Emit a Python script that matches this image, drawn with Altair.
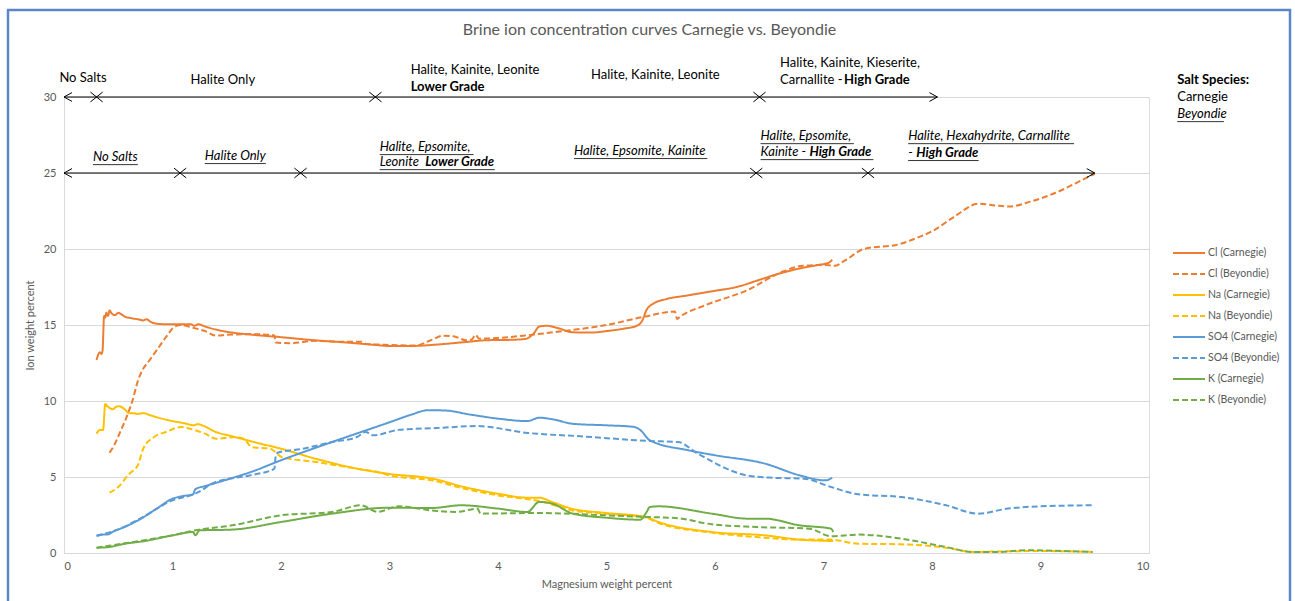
import altair as alt
import pandas as pd

# ---------------- series values (Mg wt% vs ion wt%) ----------------
cl_carnegie_x = [0.30, 0.33, 0.345, 0.355, 0.37, 0.38, 0.39, 0.405, 0.42, 0.44, 0.47, 0.50, 0.53, 0.56, 0.62,
                 0.70, 0.73, 0.76, 0.80, 0.86, 0.94, 1.05, 1.17, 1.20, 1.24, 1.30, 1.40, 1.55, 1.75, 2.0,
                 2.3, 2.6, 2.85, 3.0, 3.2, 3.45, 3.7, 3.9, 4.1, 4.25, 4.33, 4.38, 4.45, 4.55, 4.69, 4.85,
                 5.0, 5.15, 5.28, 5.33, 5.37, 5.43, 5.55, 5.75, 6.0, 6.2, 6.4, 6.6, 6.8, 6.95, 7.05, 7.08]
cl_carnegie_y = [12.7, 13.2, 13.1, 13.3, 15.6, 15.5, 15.8, 15.6, 15.95, 15.75, 15.65, 15.8, 15.7, 15.55, 15.45,
                 15.35, 15.3, 15.38, 15.2, 15.08, 15.05, 15.05, 15.05, 14.95, 15.05, 14.9, 14.7, 14.5, 14.35, 14.2,
                 14.0, 13.85, 13.7, 13.62, 13.62, 13.72, 13.88, 14.0, 14.02, 14.08, 14.45, 14.9, 14.95, 14.8, 14.52, 14.5,
                 14.6, 14.75, 14.95, 15.3, 16.0, 16.4, 16.7, 16.95, 17.25, 17.5, 17.95, 18.4, 18.75, 18.95, 19.1, 19.3]

cl_beyondie_x = [0.42, 0.47, 0.52, 0.58, 0.63, 0.68, 0.72, 0.78, 0.87, 0.95, 1.02, 1.08, 1.15, 1.21, 1.30,
                 1.40, 1.50, 1.71, 1.90, 1.94, 1.95, 2.09, 2.32, 2.55, 2.74, 2.79, 2.95, 3.24, 3.38, 3.5,
                 3.62, 3.7, 3.76, 3.79, 3.83, 4.0, 4.3, 4.6, 5.0, 5.35, 5.63, 5.65, 5.68, 5.91, 6.3, 6.62,
                 6.81, 7.0, 7.1, 7.2, 7.37, 7.69, 7.85, 8.01, 8.2, 8.43, 8.6, 8.72, 8.9, 9.14, 9.4, 9.5]
cl_beyondie_y = [6.6, 7.2, 8.0, 9.0, 10.0, 11.3, 12.0, 12.6, 13.5, 14.3, 14.9, 15.0, 14.9, 14.78, 14.6,
                 14.3, 14.35, 14.4, 14.35, 14.3, 13.85, 13.8, 13.96, 13.9, 13.9, 13.75, 13.7, 13.65, 14.0, 14.3,
                 14.2, 14.0, 14.05, 14.35, 14.1, 14.15, 14.35, 14.6, 15.0, 15.55, 15.89, 15.4, 15.56, 16.3, 17.3, 18.5,
                 18.9, 18.95, 18.9, 19.25, 20.0, 20.3, 20.7, 21.2, 22.1, 22.98, 22.85, 22.8, 23.1, 23.7, 24.6, 24.95]

na_carnegie_x = [0.30, 0.33, 0.36, 0.38, 0.40, 0.42, 0.45, 0.48, 0.51, 0.56, 0.60, 0.64, 0.68, 0.73, 0.80,
                 0.87, 1.0, 1.1, 1.2, 1.23, 1.28, 1.40, 1.55, 1.75, 2.0, 2.32, 2.7, 3.0, 3.39, 3.69,
                 4.0, 4.27, 4.38, 4.5, 4.69, 5.0, 5.36, 5.48, 5.97, 6.46, 6.78, 7.09]
na_carnegie_y = [7.85, 8.1, 8.1, 9.8, 9.65, 9.55, 9.45, 9.62, 9.65, 9.45, 9.2, 9.2, 9.15, 9.2, 9.05,
                 8.9, 8.68, 8.55, 8.4, 8.48, 8.38, 7.96, 7.68, 7.3, 6.86, 6.2, 5.55, 5.2, 4.9, 4.34,
                 3.9, 3.64, 3.64, 3.35, 2.9, 2.63, 2.37, 2.04, 1.38, 1.16, 0.88, 0.79]

na_beyondie_x = [0.42, 0.5, 0.6, 0.68, 0.73, 0.83, 0.94, 1.08, 1.21, 1.30, 1.40, 1.59, 1.66, 1.73, 1.90,
                 2.01, 2.32, 2.7, 2.89, 3.0, 3.39, 3.69, 4.0, 4.38, 4.69, 5.0, 5.36, 5.48, 5.97, 6.38,
                 6.78, 7.07, 7.32, 7.72, 8.13, 8.38, 8.6, 8.99, 9.48]
na_beyondie_y = [3.97, 4.34, 5.2, 5.77, 6.86, 7.63, 7.96, 8.29, 8.07, 7.85, 7.52, 7.63, 7.5, 6.97, 6.86,
                 6.3, 5.99, 5.55, 5.33, 5.1, 4.78, 4.23, 3.79, 3.42, 2.8, 2.59, 2.32, 1.97, 1.34, 1.05,
                 0.88, 0.88, 0.61, 0.57, 0.35, 0.07, 0.1, 0.13, 0.07]

so4_carnegie_x = [0.30, 0.35, 0.41, 0.45, 0.52, 0.6, 0.71, 0.85, 1.0, 1.1, 1.19, 1.21, 1.3, 1.48, 1.75,
                  2.0, 2.47, 3.0, 3.2, 3.35, 3.5, 3.75, 4.0, 4.27, 4.38, 4.5, 4.69, 5.0, 5.25, 5.31,
                  5.4, 5.76, 6.0, 6.46, 6.78, 7.02, 7.08]
so4_carnegie_y = [1.12, 1.2, 1.23, 1.4, 1.6, 1.85, 2.26, 2.9, 3.57, 3.75, 3.86, 4.2, 4.4, 4.78, 5.4,
                  6.1, 7.3, 8.6, 9.1, 9.39, 9.38, 9.1, 8.84, 8.68, 8.9, 8.8, 8.5, 8.4, 8.3, 8.1,
                  7.41, 6.75, 6.43, 5.88, 5.11, 4.78, 4.95]

so4_beyondie_x = [0.30, 0.5, 0.71, 1.0, 1.21, 1.4, 1.71, 1.94, 1.95, 1.97, 2.2, 2.47, 2.7, 2.78, 2.85,
                  3.08, 3.43, 3.81, 4.27, 4.76, 5.4, 5.66, 5.84, 6.29, 6.5, 6.82, 7.07, 7.32, 7.72, 8.13,
                  8.42, 8.7, 8.99, 9.48]
so4_beyondie_y = [1.15, 1.55, 2.3, 3.46, 3.9, 4.67, 5.1, 5.55, 6.3, 6.6, 6.86, 7.3, 7.63, 7.96, 7.74,
                  8.1, 8.22, 8.35, 7.9, 7.68, 7.37, 7.3, 6.54, 5.11, 4.96, 4.89, 4.34, 3.86, 3.68, 3.14,
                  2.59, 2.92, 3.07, 3.14]

k_carnegie_x = [0.30, 0.41, 0.56, 0.73, 1.0, 1.19, 1.21, 1.25, 1.55, 2.0, 2.47, 3.0, 3.39, 3.66, 4.0,
                4.27, 4.38, 4.5, 4.69, 5.0, 5.31, 5.37, 5.4, 5.48, 5.97, 6.3, 6.46, 6.78, 7.07, 7.09]
k_carnegie_y = [0.35, 0.39, 0.61, 0.77, 1.16, 1.38, 1.16, 1.49, 1.54, 2.04, 2.59, 2.98, 2.96, 3.14, 2.92,
                2.7, 3.36, 3.25, 2.59, 2.32, 2.19, 2.7, 3.03, 3.07, 2.59, 2.26, 2.26, 1.82, 1.6, 1.38]

k_beyondie_x = [0.30, 0.73, 1.0, 1.21, 1.55, 2.0, 2.47, 2.74, 2.89, 3.08, 3.39, 3.62, 3.81, 3.84, 4.38,
                5.0, 5.37, 5.64, 5.97, 6.38, 6.87, 7.07, 7.32, 7.72, 8.13, 8.38, 8.62, 8.87, 9.2, 9.48]
k_beyondie_y = [0.35, 0.83, 1.16, 1.49, 1.82, 2.48, 2.7, 3.14, 2.7, 3.07, 2.8, 2.7, 2.92, 2.59, 2.63,
                2.48, 2.37, 2.3, 1.89, 1.71, 1.6, 1.1, 1.21, 0.94, 0.39, 0.07, 0.07, 0.18, 0.13, 0.07]

series_names = ["Cl (Carnegie)", "Cl (Beyondie)", "Na (Carnegie)", "Na (Beyondie)",
                "SO4 (Carnegie)", "SO4 (Beyondie)", "K (Carnegie)", "K (Beyondie)"]
series_colors = ["#ED7D31", "#ED7D31", "#FFC000", "#FFC000",
                 "#5B9BD5", "#5B9BD5", "#70AD47", "#70AD47"]
series_dashes = [[1, 0], [6, 3], [1, 0], [6, 3], [1, 0], [6, 3], [1, 0], [6, 3]]
series_xy = [(cl_carnegie_x, cl_carnegie_y), (cl_beyondie_x, cl_beyondie_y),
             (na_carnegie_x, na_carnegie_y), (na_beyondie_x, na_beyondie_y),
             (so4_carnegie_x, so4_carnegie_y), (so4_beyondie_x, so4_beyondie_y),
             (k_carnegie_x, k_carnegie_y), (k_beyondie_x, k_beyondie_y)]

# ---------------- salt-species zone annotations ----------------
# arrow rows: Carnegie at 30, Beyondie at 25
arrow_y = [30, 25]
arrow_start = [0.0, 0.0]
arrow_end = [8.05, 9.5]
# boundaries between precipitation zones
zone_mark_x = [0.30, 2.87, 6.41, 1.07, 2.18, 6.38, 7.41]
zone_mark_y = [30, 30, 30, 25, 25, 25, 25]

# text pieces: x, y, text, alignment, style
label_x = [0.175, 1.464, 3.195, 3.195, 5.45, 6.60, 6.60, 7.19, 10.26, 10.26, 10.26,
           0.267, 1.298, 2.91, 2.91, 3.33, 4.70, 6.42, 6.42, 6.87, 7.78, 7.78, 7.855]
label_y = [31.25, 31.12, 31.78, 30.66, 31.45, 32.24, 31.12, 31.12, 31.12, 30.0, 28.88,
           26.05, 26.12, 26.71, 25.72, 25.72, 26.45, 27.43, 26.38, 26.38, 27.43, 26.32, 26.32]
label_text = ["No Salts", "Halite Only", "Halite, Kainite, Leonite", "Lower Grade",
              "Halite, Kainite, Leonite", "Halite, Kainite, Kieserite,", "Carnallite -", "High Grade",
              "Salt Species:", "Carnegie", "Beyondie",
              "No Salts", "Halite Only", "Halite, Epsomite,", "Leonite", "Lower Grade",
              "Halite, Epsomite, Kainite", "Halite, Epsomite,", "Kainite -", "High Grade",
              "Halite, Hexahydrite, Carnallite", "-", "High Grade"]
label_align = ["center", "center", "left", "left", "center", "left", "left", "left",
               "left", "left", "left",
               "left", "left", "left", "left", "left", "left", "left", "left", "left",
               "left", "left", "left"]
label_style = ["plain", "plain", "plain", "bold", "plain", "plain", "plain", "bold",
               "bold", "plain", "italic",
               "italic", "italic", "italic", "italic", "bolditalic", "italic", "italic", "italic", "bolditalic",
               "italic", "italic", "bolditalic"]

# underlines of the italic (Beyondie) lines
underline_x0 = [10.26, 0.267, 1.298, 2.91, 2.91, 4.70, 6.42, 6.42, 7.78, 7.78]
underline_x1 = [10.69, 0.681, 1.86, 3.775, 3.97, 5.93, 7.28, 7.46, 9.31, 8.43]
underline_y = [28.38, 25.55, 25.62, 26.21, 25.22, 25.95, 26.93, 25.88, 26.93, 25.82]

FONT = "Lato"
GREY = "#595959"

rows = []
for name, (xs, ys) in zip(series_names, series_xy):
    for i, (xv, yv) in enumerate(zip(xs, ys)):
        rows.append({"series": name, "mg": xv, "ion": yv, "idx": i})
lines_df = pd.DataFrame(rows)

arrows_df = pd.DataFrame({"mg": arrow_start, "mg2": arrow_end, "ion": arrow_y})
marks_df = pd.DataFrame({"mg": zone_mark_x, "ion": zone_mark_y})
labels_df = pd.DataFrame({"mg": label_x, "ion": label_y, "text": label_text,
                          "align": label_align, "style": label_style})
underline_df = pd.DataFrame({"mg": underline_x0, "mg2": underline_x1, "ion": underline_y})

X_SCALE = alt.Scale(domain=[0, 10], nice=False)
Y_SCALE = alt.Scale(domain=[0, 30], nice=False)
X_AXIS = alt.Axis(values=list(range(0, 11)), grid=False, ticks=False, domainColor="#D9D9D9",
                  domainWidth=1, labelColor=GREY, labelFont=FONT, labelFontSize=11, labelPadding=7,
                  titleColor=GREY, titleFont=FONT, titleFontSize=11, titleFontWeight="normal",
                  titlePadding=7)
Y_AXIS = alt.Axis(values=[0, 5, 10, 15, 20, 25, 30], grid=True, gridColor="#D9D9D9", ticks=False,
                  domainColor="#D9D9D9", labelColor=GREY, labelFont=FONT, labelFontSize=11,
                  labelPadding=8, titleColor=GREY, titleFont=FONT, titleFontSize=11,
                  titleFontWeight="normal", titlePadding=8)


def xenc():
    return alt.X("mg:Q", scale=X_SCALE, axis=X_AXIS, title="Magnesium weight percent")


def yenc():
    return alt.Y("ion:Q", scale=Y_SCALE, axis=Y_AXIS, title="Ion weight percent")


legend = alt.Legend(orient="none", legendX=1108, legendY=148, symbolType="stroke", symbolSize=1024,
                    symbolStrokeWidth=2, labelFont=FONT, labelFontSize=10.5, labelColor=GREY,
                    labelOffset=2, clipHeight=16, rowPadding=5, title=None)

lines = alt.Chart(lines_df).mark_line(strokeWidth=2, interpolate="monotone").encode(
    x=xenc(), y=yenc(),
    color=alt.Color("series:N", scale=alt.Scale(domain=series_names, range=series_colors), legend=legend),
    strokeDash=alt.StrokeDash("series:N", scale=alt.Scale(domain=series_names, range=series_dashes),
                              legend=legend),
    order=alt.Order("idx:Q"),
)

arrow_rules = alt.Chart(arrows_df).mark_rule(color="#000000", strokeWidth=1).encode(
    x=xenc(), x2="mg2:Q", y=yenc())

left_heads = alt.Chart(arrows_df).mark_point(
    shape="M1,-0.55L0,0L1,0.55", filled=False, color="#000000", strokeWidth=1, size=256, opacity=1
).encode(x=xenc(), y=yenc())

right_heads = alt.Chart(arrows_df).mark_point(
    shape="M-1,-0.55L0,0L-1,0.55", filled=False, color="#000000", strokeWidth=1, size=256, opacity=1
).encode(x=alt.X("mg2:Q", scale=X_SCALE, axis=X_AXIS, title="Magnesium weight percent"), y=yenc())

zone_marks = alt.Chart(marks_df).mark_point(
    shape="M-1,-0.8L1,0.8M-1,0.8L1,-0.8", filled=False, color="#000000", strokeWidth=1, size=150,
    opacity=1
).encode(x=xenc(), y=yenc())

text_layers = []
for style, weight, font_style in [("plain", "normal", "normal"), ("bold", "bold", "normal"),
                                  ("italic", "normal", "italic"), ("bolditalic", "bold", "italic")]:
    for align in ["left", "center", "right"]:
        sub = labels_df[(labels_df["style"] == style) & (labels_df["align"] == align)]
        if len(sub) == 0:
            continue
        text_layers.append(
            alt.Chart(sub).mark_text(font=FONT, fontSize=13, fontWeight=weight, fontStyle=font_style,
                                     align=align, baseline="middle", color="#000000")
            .encode(x=xenc(), y=yenc(), text="text:N")
        )

underlines = alt.Chart(underline_df).mark_rule(color="#000000", strokeWidth=0.8).encode(
    x=xenc(), x2="mg2:Q", y=yenc())

frame = alt.Chart(pd.DataFrame({"a": [0]})).mark_rect(
    fillOpacity=0, stroke="#5B87C8", strokeWidth=2.5
).encode(x=alt.value(-56), x2=alt.value(1226), y=alt.value(-87), y2=alt.value(530))

chart = alt.layer(frame, lines, arrow_rules, left_heads, right_heads, zone_marks, underlines,
                  *text_layers).properties(
    width=1085, height=456,
    title=alt.TitleParams("Brine ion concentration curves Carnegie vs. Beyondie", anchor="middle",
                          frame="group", font=FONT, fontSize=16, fontWeight="normal", color=GREY,
                          dx=43, offset=-29),
    autosize=alt.AutoSizeParams(type="none"),
    padding={"left": 64, "top": 97, "right": 146, "bottom": 48},
).configure_view(stroke=None).configure(background="#FFFFFF")

chart.save("out.html", embed_options={"renderer": "svg", "actions": False})
